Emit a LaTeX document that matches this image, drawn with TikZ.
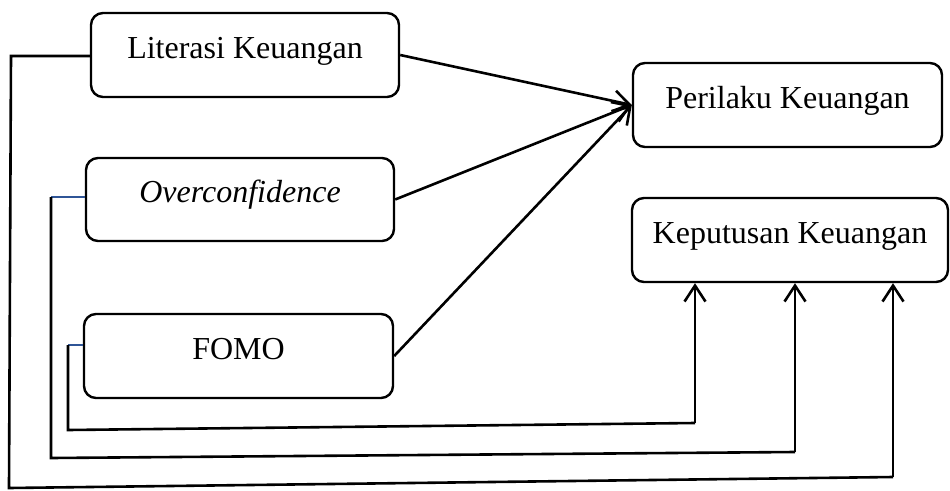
\documentclass[tikz,border=0pt]{standalone}
\usepackage{fontspec}
\setmainfont{Liberation Serif}
\usetikzlibrary{arrows.meta}
\definecolor{lineblue}{HTML}{2F5597}
\begin{document}
\begin{tikzpicture}[x=1pt,y=-1pt,
  box/.style={draw, line width=2.4pt, rounded corners=12pt, inner xsep=0pt, inner ysep=0pt,
    text height=45pt, text depth=39pt, font=\fontsize{32}{38}\selectfont},
  conn/.style={line width=2.6pt},
  tip/.style={-{Straight Barb[length=16pt,width=21pt,line width=2.6pt]}}]
\useasboundingbox (0,0) rectangle (950,490);
\node[box, minimum width=308pt] (lit) at (245,55) {Literasi Keuangan};
\node[box, minimum width=308pt, text height=44pt] (oc) at (240,199.5) {\itshape Overconfidence};
\node[box, minimum width=309pt] (fomo) at (238.5,356) {FOMO};
\node[box, minimum width=309pt] (per) at (787.5,105) {Perilaku Keuangan};
\node[box, minimum width=316pt] (kep) at (790,240) {Keputusan Keuangan};
% arrows to Perilaku
\draw[conn, tip] (lit.east) -- (per.west);
\draw[conn, tip] (oc.east) -- (per.west);
\draw[conn, tip] (fomo.east) -- (per.west);
% routes to Keputusan
\coordinate (a1) at (11,56);
\coordinate (a2) at (9,488);
\coordinate (a3) at (893,477);
\coordinate (b1) at (51,197);
\coordinate (b2) at (51,458);
\coordinate (b3) at (795,452);
\coordinate (c1) at (68,345);
\coordinate (c2) at (68,430);
\coordinate (c3) at (695,423);
\draw[conn] (a1 -| lit.west) -- (a1) -- (a2) -- (a3);
\draw[conn, tip] (a3) -- (a3 |- kep.south);
\draw[line width=2.6pt, lineblue] (b1 -| oc.west) -- (b1);
\draw[conn] (b1) -- (b2) -- (b3);
\draw[conn, tip] (b3) -- (b3 |- kep.south);
\draw[line width=2.6pt, lineblue] (c1 -| fomo.west) -- (c1);
\draw[conn] (c1) -- (c2) -- (c3);
\draw[conn, tip] (c3) -- (c3 |- kep.south);
\end{tikzpicture}
\end{document}
